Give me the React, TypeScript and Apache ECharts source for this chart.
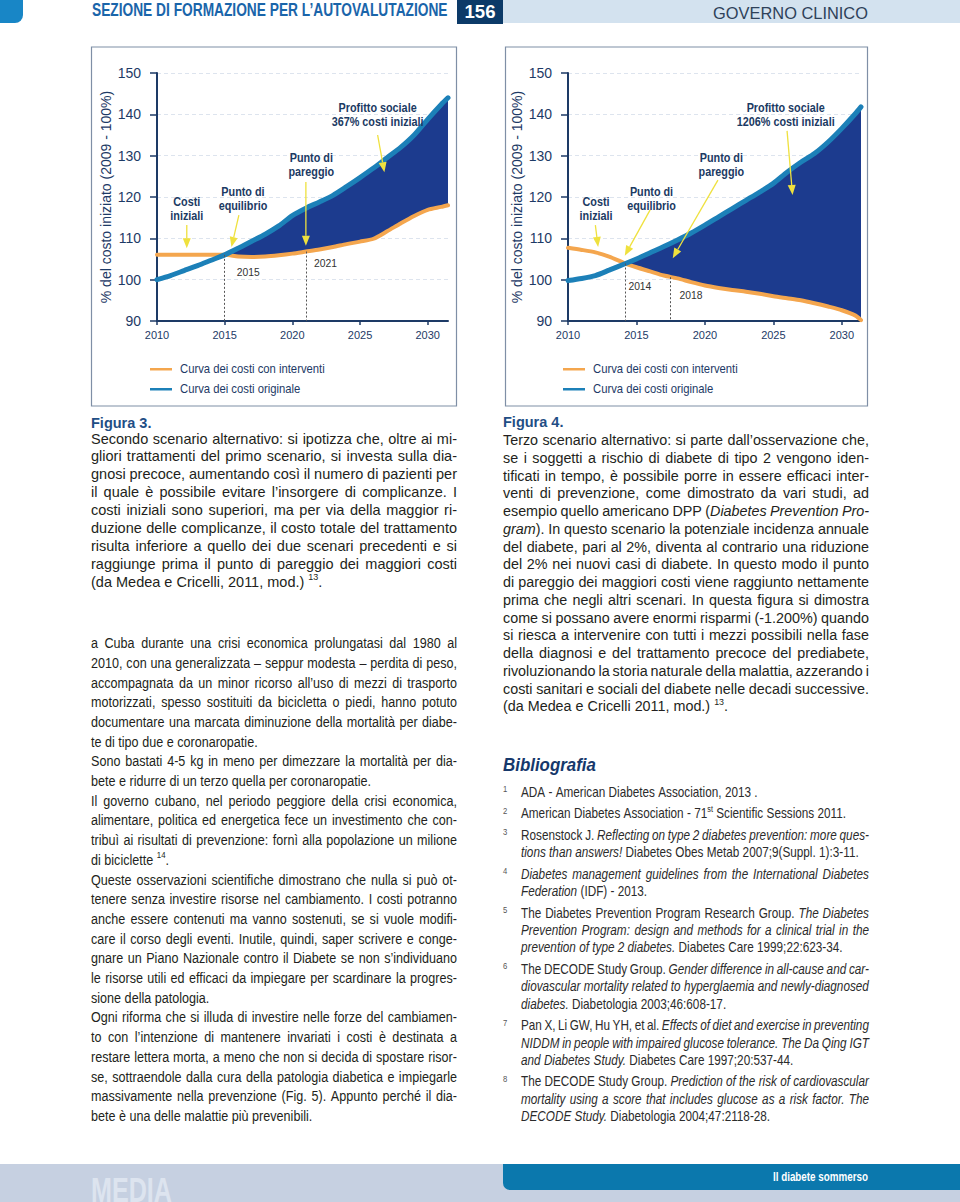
import React, { useEffect, useRef } from 'react';
import * as echarts from 'echarts';

// ---------------- DATA ----------------
const NAME_INT = 'Curva dei costi con interventi';
const NAME_ORIG = 'Curva dei costi originale';
const Y_NAME = '% del costo iniziato (2009 - 100%)';
const X_TICKS = [2010, 2015, 2020, 2025, 2030];

// Figura 3 (left chart)
const YEARS_3 = [2010, 2011, 2012, 2013, 2014, 2015, 2016, 2017, 2018, 2019, 2020, 2021, 2022, 2023, 2024, 2025, 2026, 2027, 2028, 2029, 2030, 2031, 2031.5];
const ORIGINAL_3 = [100.0, 101.0, 102.2, 103.4, 104.7, 106.0, 107.6, 109.3, 111.0, 113.0, 115.5, 117.3, 118.8, 120.4, 122.5, 124.7, 127.0, 129.5, 132.0, 135.0, 138.8, 142.4, 144.0];
const INTERVENTI_3 = [106.0, 106.0, 106.0, 106.0, 106.0, 106.0, 105.6, 105.5, 105.6, 105.9, 106.3, 106.8, 107.3, 107.9, 108.6, 109.2, 109.9, 111.7, 113.6, 115.4, 116.9, 117.6, 118.0];
const FILL_FROM_3 = 2015;
const DROP_LINES_3 = [[2015, 106.0], [2021, 106.8]];
const YEAR_LABELS_3 = [{ t: '2015', at: [2016.75, 101.85] }, { t: '2021', at: [2022.45, 104.0] }];
const NOTES_3 = [
  { t: ['Costi', 'iniziali'], at: [2012.2, 117.1], from: [2012.2, 113.2], to: [2012.2, 107.6] },
  { t: ['Punto di', 'equilibrio'], at: [2016.35, 119.5], from: [2016.05, 115.6], to: [2015.5, 107.9] },
  { t: ['Punto di', 'pareggio'], at: [2021.4, 127.7], from: [2021.0, 123.6], to: [2021.0, 108.2] },
  { t: ['Profitto sociale', '367% costi iniziali'], at: [2026.3, 139.8], from: [2026.3, 135.0], to: [2026.8, 126.0] },
];

// Figura 4 (right chart)
const YEARS_4 = [2010, 2011, 2012, 2013, 2014.2, 2015, 2016, 2017, 2018, 2019, 2020, 2021, 2022, 2023, 2024, 2025, 2026, 2027, 2028, 2029, 2030, 2031, 2031.4];
const ORIGINAL_4 = [99.8, 100.3, 101.0, 102.3, 103.9, 105.0, 106.5, 108.0, 109.6, 111.3, 113.2, 115.2, 117.2, 119.2, 121.2, 123.3, 126.0, 128.4, 130.5, 133.3, 136.6, 140.2, 141.8];
const INTERVENTI_4 = [107.7, 107.2, 106.6, 105.6, 103.9, 103.0, 102.0, 101.0, 100.3, 99.4, 98.6, 98.0, 97.5, 97.1, 96.6, 96.0, 95.5, 95.0, 94.3, 93.5, 92.6, 91.3, 90.2];
const FILL_FROM_4 = 2014.2;
const DROP_LINES_4 = [[2014.2, 103.9], [2017.5, 100.6]];
const YEAR_LABELS_4 = [{ t: '2014', at: [2015.25, 98.5] }, { t: '2018', at: [2018.98, 96.3] }];
const NOTES_4 = [
  { t: ['Costi', 'iniziali'], at: [2012.05, 117.1], from: [2012.0, 113.2], to: [2012.2, 107.9] },
  { t: ['Punto di', 'equilibrio'], at: [2016.1, 119.5], from: [2016.0, 116.9], to: [2014.15, 105.8] },
  { t: ['Punto di', 'pareggio'], at: [2021.2, 127.7], from: [2020.95, 124.1], to: [2017.65, 105.2] },
  { t: ['Profitto sociale', '1206% costi iniziali'], at: [2025.9, 139.8], from: [2026.0, 136.0], to: [2026.4, 120.5] },
];

// Page texts
const HEADER_TITLE = 'SEZIONE DI FORMAZIONE PER L’AUTOVALUTAZIONE';
const HEADER_PAGE = '156';
const HEADER_SECTION = 'GOVERNO CLINICO';
const FOOTER_LEFT = 'MEDIA';
const FOOTER_RIGHT = 'Il diabete sommerso';

const FIG3_TITLE = 'Figura 3.';
const FIG3_LINES = [
  'Secondo scenario alternativo: si ipotizza che, oltre ai mi-',
  'gliori trattamenti del primo scenario, si investa sulla dia-',
  'gnosi precoce, aumentando così il numero di pazienti per',
  'il quale è possibile evitare l’insorgere di complicanze. I',
  'costi iniziali sono superiori, ma per via della maggior ri-',
  'duzione delle complicanze, il costo totale del trattamento',
  'risulta inferiore a quello dei due scenari precedenti e si',
  'raggiunge prima il punto di pareggio dei maggiori costi',
  '(da Medea e Cricelli, 2011, mod.) ^13^.',
];
const FIG3_ENDS = [8];

const FIG4_TITLE = 'Figura 4.';
const FIG4_LINES = [
  'Terzo scenario alternativo: si parte dall’osservazione che,',
  'se i soggetti a rischio di diabete di tipo 2 vengono iden-',
  'tificati in tempo, è possibile porre in essere efficaci inter-',
  'venti di prevenzione, come dimostrato da vari studi, ad',
  'esempio quello americano DPP (*Diabetes Prevention Pro-*',
  '*gram*). In questo scenario la potenziale incidenza annuale',
  'del diabete, pari al 2%, diventa al contrario una riduzione',
  'del 2% nei nuovi casi di diabete. In questo modo il punto',
  'di pareggio dei maggiori costi viene raggiunto nettamente',
  'prima che negli altri scenari. In questa figura si dimostra',
  'come si possano avere enormi risparmi (-1.200%) quando',
  'si riesca a intervenire con tutti i mezzi possibili nella fase',
  'della diagnosi e del trattamento precoce del prediabete,',
  'rivoluzionando la storia naturale della malattia, azzerando i',
  'costi sanitari e sociali del diabete nelle decadi successive.',
  '(da Medea e Cricelli 2011, mod.) ^13^.',
];
const FIG4_ENDS = [15];

const BODY_LINES = [
  'a Cuba durante una crisi economica prolungatasi dal 1980 al',
  '2010, con una generalizzata – seppur modesta – perdita di peso,',
  'accompagnata da un minor ricorso all’uso di mezzi di trasporto',
  'motorizzati, spesso sostituiti da bicicletta o piedi, hanno potuto',
  'documentare una marcata diminuzione della mortalità per diabe-',
  'te di tipo due e coronaropatie.',
  'Sono bastati 4-5 kg in meno per dimezzare la mortalità per dia-',
  'bete e ridurre di un terzo quella per coronaropatie.',
  'Il governo cubano, nel periodo peggiore della crisi economica,',
  'alimentare, politica ed energetica fece un investimento che con-',
  'tribuì ai risultati di prevenzione: fornì alla popolazione un milione',
  'di biciclette ^14^.',
  'Queste osservazioni scientifiche dimostrano che nulla si può ot-',
  'tenere senza investire risorse nel cambiamento. I costi potranno',
  'anche essere contenuti ma vanno sostenuti, se si vuole modifi-',
  'care il corso degli eventi. Inutile, quindi, saper scrivere e conge-',
  'gnare un Piano Nazionale contro il Diabete se non s’individuano',
  'le risorse utili ed efficaci da impiegare per scardinare la progres-',
  'sione della patologia.',
  'Ogni riforma che si illuda di investire nelle forze del cambiamen-',
  'to con l’intenzione di mantenere invariati i costi è destinata a',
  'restare lettera morta, a meno che non si decida di spostare risor-',
  'se, sottraendole dalla cura della patologia diabetica e impiegarle',
  'massivamente nella prevenzione (Fig. 5). Appunto perché il dia-',
  'bete è una delle malattie più prevenibili.',
];
const BODY_ENDS = [5, 7, 11, 18, 24];

const BIB_TITLE = 'Bibliografia';
const BIB_ENTRIES = [
  ['ADA - American Diabetes Association, 2013 .'],
  ['American Diabetes Association - 71^st^ Scientific Sessions 2011.'],
  ['Rosenstock J. *Reflecting on type 2 diabetes prevention: more ques-*', '*tions than answers!* Diabetes Obes Metab 2007;9(Suppl. 1):3-11.'],
  ['*Diabetes management guidelines from the International Diabetes*', '*Federation* (IDF) - 2013.'],
  ['The Diabetes Prevention Program Research Group. *The Diabetes*', '*Prevention Program: design and methods for a clinical trial in the*', '*prevention of type 2 diabetes.* Diabetes Care 1999;22:623-34.'],
  ['The DECODE Study Group. *Gender difference in all-cause and car-*', '*diovascular mortality related to hyperglaemia and newly-diagnosed*', '*diabetes.* Diabetologia 2003;46:608-17.'],
  ['Pan X, Li GW, Hu YH, et al. *Effects of diet and exercise in preventing*', '*NIDDM in people with impaired glucose tolerance. The Da Qing IGT*', '*and Diabetes Study.* Diabetes Care 1997;20:537-44.'],
  ['The DECODE Study Group. *Prediction of the risk of cardiovascular*', '*mortality using a score that includes glucose as a risk factor. The*', '*DECODE Study.* Diabetologia 2004;47:2118-28.'],
];

// ---------------- STYLE ----------------
const SANS = "'Liberation Sans', Arial, Helvetica, sans-serif";
const BLUE = '#1c80b8';
const ORANGE = '#f4a64e';
const FILL = '#1c3b8e';
const AXIS = '#1d3a66';
const NOTE = '#1b3a63';
const ARROW = '#efe13e';
const BODY = '#231f20';

let _ctx: CanvasRenderingContext2D | null = null;
function mw(t: string, size: number, weight: any = 'normal', style = 'normal') {
  if (!_ctx) _ctx = document.createElement('canvas').getContext('2d');
  _ctx!.font = `${style} ${weight} ${size}px ${SANS}`;
  return _ctx!.measureText(t).width;
}
// horizontal scale that makes `t` at `size` exactly `width` wide
function sxFor(t: string, size: number, width: number, weight: any = 'normal', style = 'normal') {
  return width / mw(t, size, weight, style);
}

type Seg = { t: string; it: boolean; sup: boolean };
function parseWords(s: string): Seg[][] {
  const words: Seg[][] = [];
  let it = false, sup = false, cur: Seg[] = [], buf = '';
  const flush = () => { if (buf) { cur.push({ t: buf, it, sup }); buf = ''; } };
  for (const ch of s) {
    if (ch === '*') { flush(); it = !it; continue; }
    if (ch === '^') { flush(); sup = !sup; continue; }
    if (ch === ' ') { flush(); if (cur.length) { words.push(cur); cur = []; } continue; }
    buf += ch;
  }
  flush();
  if (cur.length) words.push(cur);
  return words;
}

type LineSpec = { s: string; x: number; y: number; w: number; just: boolean };
function layoutLines(specs: LineSpec[], size: number, sx0: number, color: string, weight: any = 'normal') {
  const parsed = specs.map((l) => parseWords(l.s));
  const segW = (sg: Seg) => mw(sg.t, sg.sup ? size * 0.62 : size, weight, sg.it ? 'italic' : 'normal');
  const wordW = (w: Seg[]) => w.reduce((a, sg) => a + segW(sg), 0);
  const sp = mw(' ', size, weight);
  let sx = sx0;
  while (sx > 0.5) {
    const ok = parsed.every((ws, i) => {
      const tot = ws.reduce((a, w) => a + wordW(w), 0);
      return (tot + (ws.length - 1) * sp * (specs[i].just ? 0.75 : 1)) * sx <= specs[i].w + 0.5;
    });
    if (ok) break;
    sx -= 0.005;
  }
  const els: any[] = [];
  parsed.forEach((ws, i) => {
    const L = specs[i];
    const widths = ws.map((w) => wordW(w) * sx);
    const tot = widths.reduce((a, b) => a + b, 0);
    const gap = L.just && ws.length > 1 ? (L.w - tot) / (ws.length - 1) : sp * sx;
    let cx = L.x;
    ws.forEach((w) => {
      w.forEach((sg) => {
        els.push({
          type: 'text', x: cx, y: L.y + (sg.sup ? -size * 0.3 : 0), scaleX: sx, silent: true, z: 10,
          style: {
            text: sg.t, fontSize: sg.sup ? size * 0.62 : size, fontFamily: SANS, fontWeight: weight,
            fontStyle: sg.it ? 'italic' : 'normal', fill: color, align: 'left', verticalAlign: 'middle',
          },
        });
        cx += segW(sg) * sx;
      });
      cx += gap;
    });
  });
  return els;
}

function blockSpecs(lines: string[], ends: number[], x: number, y0: number, dy: number, w: number): LineSpec[] {
  return lines.map((s, i) => ({ s, x, y: y0 + i * dy, w, just: !ends.includes(i) }));
}

function txt(text: string, x: number, y: number, o: any, sx = 1) {
  return { type: 'text', x, y, scaleX: sx, silent: true, z: 10, style: { text, verticalAlign: 'middle', align: 'left', fontFamily: SANS, ...o } };
}

function buildGrid(g: number, years: number[], orig: number[], inter: number[], from: number, drops: number[][]) {
  const common = { type: 'line', xAxisIndex: g, yAxisIndex: g, smooth: 0.25, symbol: 'none', showSymbol: false, silent: true };
  return [
    {
      type: 'custom', name: '_fill' + g, xAxisIndex: g, yAxisIndex: g, coordinateSystem: 'cartesian2d', silent: true, z: 1,
      data: [[from, 90]],
      renderItem: (_p: any, api: any) => {
        const top: number[][] = [];
        const bot: number[][] = [];
        years.forEach((x, i) => {
          if (x >= from) { top.push(api.coord([x, orig[i]])); bot.push(api.coord([x, inter[i]])); }
        });
        return { type: 'polygon', shape: { points: top.concat(bot.reverse()) }, style: { fill: FILL } };
      },
    },
    {
      ...common, name: NAME_INT, data: years.map((x, i) => [x, inter[i]]),
      lineStyle: { color: ORANGE, width: 4, cap: 'round' }, itemStyle: { color: ORANGE }, z: 3,
      markLine: {
        silent: true, symbol: ['none', 'none'], label: { show: false },
        lineStyle: { color: '#555', width: 1, type: [2, 2] },
        data: drops.map((d) => [{ coord: [d[0], d[1]] }, { coord: [d[0], 90] }]),
      },
    },
    {
      ...common, name: NAME_ORIG, data: years.map((x, i) => [x, orig[i]]),
      lineStyle: { color: BLUE, width: 5, cap: 'round' }, itemStyle: { color: BLUE }, z: 4,
    },
  ];
}

function axes(g: number, max: number) {
  const x = {
    gridIndex: g, type: 'value', min: 2010, max, interval: 5,
    axisLine: { show: true, lineStyle: { color: AXIS, width: 2 } },
    axisTick: { show: true, length: 4, customValues: X_TICKS, lineStyle: { color: AXIS, width: 1.5 } },
    axisLabel: {
      show: true, customValues: X_TICKS, margin: 8, fontSize: 11, color: AXIS, fontFamily: SANS,
      formatter: (v: number) => (v % 5 === 0 ? String(v) : ''),
    },
    splitLine: { show: false },
  };
  const y = {
    gridIndex: g, type: 'value', min: 90, max: 150, interval: 10,
    axisLine: { show: true, lineStyle: { color: AXIS, width: 2 } },
    axisTick: { show: true, length: 7, lineStyle: { color: AXIS, width: 1.5 } },
    axisLabel: { show: true, margin: 16, fontSize: 14, color: AXIS, fontFamily: SANS },
    splitLine: { show: true, lineStyle: { color: '#dde4ee', width: 1, type: [4, 3] } },
    name: Y_NAME, nameLocation: 'middle', nameGap: 44,
    nameTextStyle: { fontSize: 14, color: AXIS, fontFamily: SANS },
  };
  return { x, y };
}

export default function App() {
  const ref = useRef<HTMLDivElement>(null);
  useEffect(() => {
    if (!ref.current) return;
    const chart = echarts.init(ref.current, undefined, { renderer: 'svg', width: 960, height: 1202 });

    const a0 = axes(0, 2031.5);
    const a1 = axes(1, 2031.4);
    const series = [
      ...buildGrid(0, YEARS_3, ORIGINAL_3, INTERVENTI_3, FILL_FROM_3, DROP_LINES_3),
      ...buildGrid(1, YEARS_4, ORIGINAL_4, INTERVENTI_4, FILL_FROM_4, DROP_LINES_4),
    ];
    chart.setOption({
      animation: false,
      textStyle: { fontFamily: SANS },
      grid: [
        { left: 157, top: 73, width: 291, height: 248, containLabel: false, outerBoundsMode: 'none' },
        { left: 568, top: 73, width: 293, height: 248, containLabel: false, outerBoundsMode: 'none' },
      ],
      xAxis: [a0.x, a1.x],
      yAxis: [a0.y, a1.y],
      tooltip: { show: false },
      series,
    } as any);

    const g: any[] = [];
    // ---- chart annotations (data coords -> pixels through the chart's scales)
    const annSize = 12;
    const annSx = sxFor('367% costi iniziali', annSize, 92, 'bold');
    const yrSize = 11.5;
    const yrSx = sxFor('2015', yrSize, 23);
    const annot = (gi: number, notes: any[], yls: any[]) => {
      notes.forEach((n) => {
        const c = chart.convertToPixel({ gridIndex: gi }, n.at) as number[];
        n.t.forEach((line: string, li: number) => {
          g.push(txt(line, c[0], c[1] + (li - (n.t.length - 1) / 2) * 14, { align: 'center', fontWeight: 'bold', fontSize: annSize, fill: NOTE }, annSx));
        });
        const p1 = chart.convertToPixel({ gridIndex: gi }, n.from) as number[];
        const p2 = chart.convertToPixel({ gridIndex: gi }, n.to) as number[];
        const dx = p2[0] - p1[0], dy = p2[1] - p1[1];
        const len = Math.hypot(dx, dy);
        const ux = dx / len, uy = dy / len;
        const bx = p2[0] - ux * 10, by = p2[1] - uy * 10;
        g.push({ type: 'line', z: 9, silent: true, shape: { x1: p1[0], y1: p1[1], x2: bx, y2: by }, style: { stroke: ARROW, lineWidth: 1.3 } });
        g.push({ type: 'polygon', z: 9, silent: true, shape: { points: [[p2[0], p2[1]], [bx - uy * 4, by + ux * 4], [bx + uy * 4, by - ux * 4]] }, style: { fill: ARROW } });
      });
      yls.forEach((l) => {
        const c = chart.convertToPixel({ gridIndex: gi }, l.at) as number[];
        g.push(txt(l.t, c[0], c[1], { align: 'center', fontSize: yrSize, fill: '#333' }, yrSx));
      });
    };
    annot(0, NOTES_3, YEAR_LABELS_3);
    annot(1, NOTES_4, YEAR_LABELS_4);

    // ---- legends
    const legSize = 12.5;
    const legSx = sxFor(NAME_INT, legSize, 145);
    [150, 563].forEach((lx) => {
      g.push({ type: 'rect', silent: true, z: 9, shape: { x: lx, y: 368, width: 22, height: 2.5 }, style: { fill: ORANGE } });
      g.push({ type: 'rect', silent: true, z: 9, shape: { x: lx, y: 388, width: 22, height: 2.5 }, style: { fill: BLUE } });
      g.push(txt(NAME_INT, lx + 30, 369, { fontSize: legSize, fill: AXIS }, legSx));
      g.push(txt(NAME_ORIG, lx + 30, 389, { fontSize: legSize, fill: AXIS }, legSx));
    });

    // ---- header
    g.push({ type: 'rect', shape: { x: 503, y: 0, width: 457, height: 23 }, style: { fill: '#d3e2ef' }, silent: true });
    g.push({ type: 'rect', shape: { x: 0, y: 0, width: 23, height: 23, r: [0, 0, 8, 0] }, style: { fill: '#1886c6' }, silent: true });
    g.push({ type: 'rect', shape: { x: 457, y: 0, width: 46, height: 24 }, style: { fill: '#0c3a68' }, silent: true });
    g.push(txt(HEADER_TITLE, 92, 9, { fontWeight: 'bold', fontSize: 18.5, fill: '#1a65aa' }, sxFor(HEADER_TITLE, 18.5, 356, 'bold')));
    g.push(txt(HEADER_PAGE, 480, 12, { align: 'center', fontWeight: 'bold', fontSize: 18, fill: '#ffffff' }, sxFor(HEADER_PAGE, 18, 31, 'bold')));
    g.push(txt(HEADER_SECTION, 790.5, 12.5, { align: 'center', fontSize: 16.5, fill: '#2e4159' }, sxFor(HEADER_SECTION, 16.5, 155)));
    // ---- chart boxes
    g.push({ type: 'rect', shape: { x: 91.5, y: 47, width: 365, height: 359 }, style: { fill: 'none', stroke: '#7f8fa6', lineWidth: 1.2 }, silent: true });
    g.push({ type: 'rect', shape: { x: 505.5, y: 47, width: 362, height: 359 }, style: { fill: 'none', stroke: '#7f8fa6', lineWidth: 1.2 }, silent: true });
    // ---- captions
    g.push(txt(FIG3_TITLE, 91, 423, { fontWeight: 'bold', fontSize: 14.5, fill: '#1f4e85' }));
    g.push(txt(FIG4_TITLE, 503, 422, { fontWeight: 'bold', fontSize: 14.5, fill: '#1f4e85' }));
    g.push(...layoutLines(blockSpecs(FIG3_LINES, FIG3_ENDS, 91, 438.5, 17.9, 366), 14.5, 1, BODY));
    g.push(...layoutLines(blockSpecs(FIG4_LINES, FIG4_ENDS, 503, 440, 17.75, 366), 14.5, 1, BODY));
    // ---- body (condensed)
    g.push(...layoutLines(blockSpecs(BODY_LINES, BODY_ENDS, 91, 642.7, 19.7, 366), 15, 0.84, BODY));
    // ---- bibliography
    g.push(txt(BIB_TITLE, 503, 765, { fontWeight: 'bold', fontStyle: 'italic', fontSize: 19, fill: '#16386b' }, sxFor(BIB_TITLE, 19, 93, 'bold', 'italic')));
    const bibSpecs: LineSpec[] = [];
    let by = 792;
    BIB_ENTRIES.forEach((lines, ei) => {
      g.push(txt(String(ei + 1), 503, by - 3, { fontSize: 9, fill: '#555' }, 0.85));
      lines.forEach((s, li) => {
        bibSpecs.push({ s, x: 521, y: by, w: 348, just: li < lines.length - 1 });
        if (li < lines.length - 1) by += 17.3;
      });
      by += 21.6;
    });
    g.push(...layoutLines(bibSpecs, 14, 0.84, '#2b2b2b'));
    // ---- footer
    g.push({ type: 'rect', shape: { x: 0, y: 1164, width: 960, height: 38 }, style: { fill: '#c6d0e1' }, silent: true });
    g.push({ type: 'rect', shape: { x: 503, y: 1164, width: 457, height: 26, r: [0, 0, 0, 7] }, style: { fill: '#0b78ad' }, silent: true });
    g.push(txt(FOOTER_LEFT, 91, 1172, { verticalAlign: 'top', fontWeight: 'bold', fontSize: 36, fill: '#dde4ef' }, sxFor(FOOTER_LEFT, 36, 81, 'bold')));
    const frSx = sxFor(FOOTER_RIGHT, 12.5, 95, 'bold');
    g.push(txt(FOOTER_RIGHT, 868 - 95, 1177, { fontWeight: 'bold', fontSize: 12.5, fill: '#ffffff' }, frSx));

    chart.setOption({ graphic: { elements: g } } as any);
    return () => chart.dispose();
  }, []);
  return <div ref={ref} style={{ position: 'absolute', left: 0, top: 0, width: 960, height: 1202, background: '#ffffff' }} />;
}
